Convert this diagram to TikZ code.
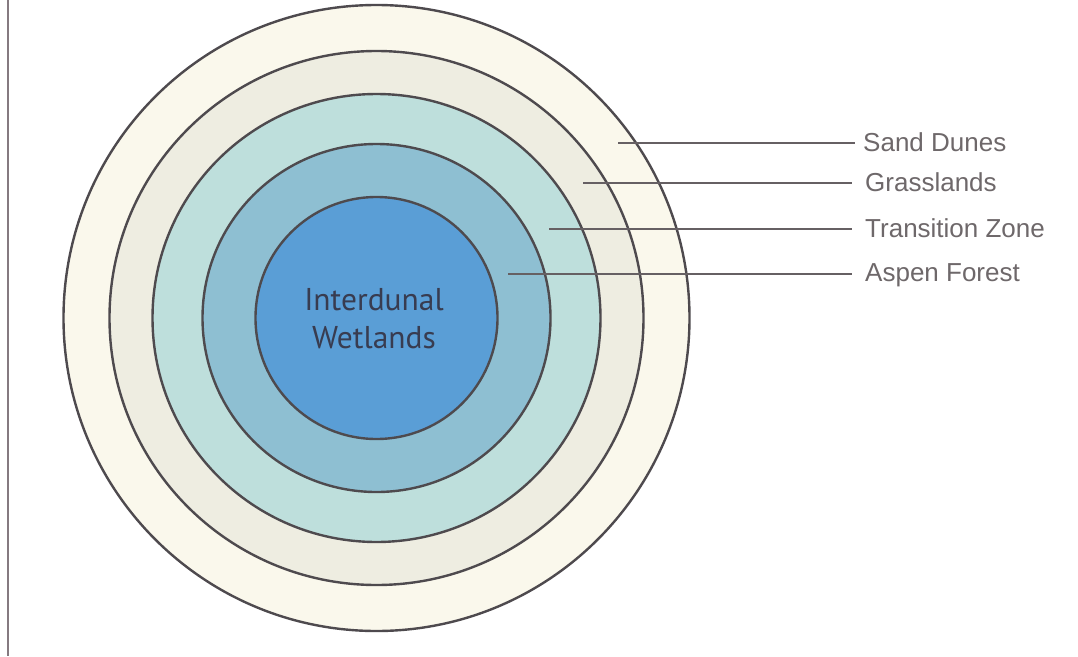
\documentclass[tikz,border=0pt]{standalone}
\usepackage{fontspec}
\setmainfont{Liberation Sans}
\newfontfamily\centerfont{PT Sans}
\definecolor{dunes}{HTML}{FAF8EC}
\definecolor{grass}{HTML}{EEEDE1}
\definecolor{trans}{HTML}{BEDFDC}
\definecolor{aspen}{HTML}{8EBFD2}
\definecolor{wet}{HTML}{5A9ED6}
\definecolor{rim}{HTML}{4E4A4E}
\definecolor{leader}{HTML}{666063}
\definecolor{labeltext}{HTML}{6E686A}
\definecolor{frame}{HTML}{857A80}
\definecolor{centertext}{HTML}{383C50}
\tikzset{
  zone/.style={circle, draw=rim, line width=2.4pt, inner sep=0pt},
  leaderline/.style={draw=leader, line width=2.3pt},
  zonelabel/.style={anchor=base west, inner sep=0pt, text=labeltext, font=\fontsize{26}{30}\selectfont},
}
\begin{document}
\begin{tikzpicture}[x=1pt,y=-1pt]
\useasboundingbox (0,0) rectangle (1078,656);
\fill[white] (0,0) rectangle (1078,656);
\draw[frame, line width=2pt] (7.5,0) -- (7.5,656);
\node[zone, fill=dunes, minimum size=626pt] (sand) at (376.5,318) {};
\node[zone, fill=grass, minimum size=534pt] (grass) at (376.5,318) {};
\node[zone, fill=trans, minimum size=448pt] (trans) at (376.5,318) {};
\node[zone, fill=aspen, minimum size=348pt] (aspen) at (376.5,318) {};
\node[zone, fill=wet, minimum size=242pt] (wet) at (376.5,318) {};
\node[text=centertext, align=center, font=\centerfont\fontsize{31.5}{38}\selectfont] (wettext) at (374,319) {Interdunal\\Wetlands};
\coordinate (s0) at (618,143);
\coordinate (g0) at (583,183);
\coordinate (t0) at (549,229);
\coordinate (a0) at (508,274);
\node[zonelabel] (sl) at (863,151) {Sand Dunes};
\node[zonelabel] (gl) at (865,191) {Grasslands};
\node[zonelabel] (tl) at (865,237) {Transition Zone};
\node[zonelabel] (al) at (865,281) {Aspen Forest};
\draw[leaderline] (s0) -- (855,143);
\draw[leaderline] (g0) -- (852,183);
\draw[leaderline] (t0) -- (852,229);
\draw[leaderline] (a0) -- (852,274);
\end{tikzpicture}
\end{document}
